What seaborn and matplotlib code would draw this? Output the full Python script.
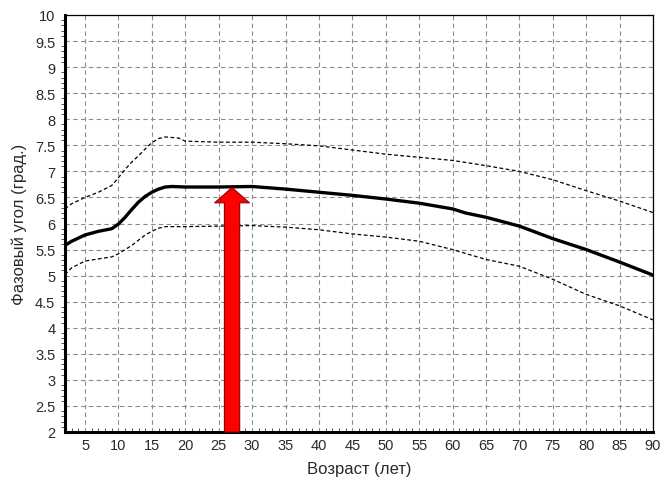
import matplotlib
matplotlib.use("Agg")
import matplotlib.pyplot as plt
import seaborn as sns
import pandas as pd
from matplotlib.ticker import MultipleLocator

# ---- data ----
mid_x = [2, 3, 5, 7, 9, 10, 11, 12, 13, 14, 15, 16, 17, 18, 20, 25, 30, 32, 35, 40,
         45, 50, 55, 60, 62, 65, 70, 75, 80, 85, 90]
mid_y = [5.58, 5.66, 5.78, 5.85, 5.9, 5.99, 6.12, 6.27, 6.41, 6.52, 6.6, 6.66, 6.7, 6.71,
         6.7, 6.7, 6.71, 6.69, 6.66, 6.6, 6.54, 6.47, 6.39, 6.28, 6.2, 6.12, 5.95,
         5.71, 5.5, 5.26, 5.01]

upper_x = [2, 3, 5, 7, 9, 10, 11, 12, 13, 14, 15, 16, 17, 19, 20, 25, 30, 35, 40,
           45, 50, 55, 60, 65, 70, 75, 80, 85, 90]
upper_y = [6.28, 6.38, 6.5, 6.6, 6.73, 6.88, 7.04, 7.18, 7.3, 7.43, 7.55, 7.63, 7.66,
           7.64, 7.58, 7.56, 7.56, 7.53, 7.49, 7.41, 7.33, 7.27, 7.21, 7.11, 7.0,
           6.84, 6.63, 6.43, 6.21]

lower_x = [2, 3, 5, 7, 9, 10, 11, 12, 13, 14, 15, 16, 17, 20, 25, 30, 35, 40, 45,
           50, 55, 60, 65, 70, 75, 80, 85, 90]
lower_y = [5.02, 5.15, 5.28, 5.32, 5.36, 5.42, 5.5, 5.58, 5.68, 5.78, 5.85, 5.91, 5.94,
           5.94, 5.95, 5.96, 5.93, 5.88, 5.8, 5.74, 5.66, 5.5, 5.31, 5.18, 4.93,
           4.64, 4.42, 4.15]

arrow_x = 27.0
arrow_top = 6.69

x_ticks = list(range(5, 95, 5))
y_ticks = [2, 2.5, 3, 3.5, 4, 4.5, 5, 5.5, 6, 6.5, 7, 7.5, 8, 8.5, 9, 9.5, 10]
y_tick_labels = ["2", "2.5", "3", "3.5", "4", "4.5", "5", "5.5", "6", "6.5", "7",
                 "7.5", "8", "8.5", "9", "9.5", "10"]
x_label = "Возраст (лет)"
y_label = "Фазовый угол (град.)"

# ---- style ----
sns.set_theme(style="white")
plt.rcParams["font.family"] = ["Liberation Sans", "DejaVu Sans"]

fig = plt.figure(figsize=(6.66, 4.85), dpi=100)
ax = fig.add_axes([65 / 666, 1 - 433 / 485, (653 - 65) / 666, (433 - 16) / 485])

df_mid = pd.DataFrame({"x": mid_x, "y": mid_y})
df_up = pd.DataFrame({"x": upper_x, "y": upper_y})
df_lo = pd.DataFrame({"x": lower_x, "y": lower_y})

sns.lineplot(data=df_up, x="x", y="y", ax=ax, color="black", lw=0.9, zorder=3)
ax.lines[-1].set_dashes([3, 2])
sns.lineplot(data=df_lo, x="x", y="y", ax=ax, color="black", lw=0.9, zorder=3)
ax.lines[-1].set_dashes([3, 2])
sns.lineplot(data=df_mid, x="x", y="y", ax=ax, color="black", lw=2.4, zorder=4)

ax.set_xlim(2, 90)
ax.set_ylim(2, 10)

ax.set_xticks(x_ticks)
ax.set_yticks(y_ticks)
ax.set_yticklabels(y_tick_labels)
ax.xaxis.set_minor_locator(MultipleLocator(1))
ax.yaxis.set_minor_locator(MultipleLocator(0.1))

ax.grid(True, which="major", color="#8c8c8c", linestyle=(0, (4, 3)), lw=0.8)
ax.tick_params(axis="x", which="major", direction="inout", length=7, width=0.8,
               colors="#555555", labelcolor="#2a2a2a", labelsize=10.5, pad=1)
ax.tick_params(axis="x", which="minor", direction="in", length=3, width=0.7,
               colors="#555555", bottom=True)
ax.tick_params(axis="y", which="major", direction="out", length=5, width=0.8,
               colors="#555555", labelcolor="#2a2a2a", labelsize=10.5, pad=2)
ax.tick_params(axis="y", which="minor", direction="out", length=3, width=0.7,
               colors="#555555", left=True)

for side in ["left", "bottom"]:
    ax.spines[side].set_linewidth(2.2)
    ax.spines[side].set_color("black")
for side in ["top", "right"]:
    ax.spines[side].set_linewidth(0.9)
    ax.spines[side].set_color("black")
    ax.spines[side].set_visible(True)

ax.set_xlabel(x_label, fontsize=12, color="#2a2a2a", labelpad=6)
ax.set_ylabel(y_label, fontsize=12, color="#2a2a2a", labelpad=6)

# red arrow
ax.annotate("", xy=(arrow_x, arrow_top), xytext=(arrow_x, 2.0),
            arrowprops=dict(arrowstyle="simple,head_width=25,head_length=11,tail_width=11",
                            mutation_scale=1, fc="#ff0000", ec="#8b0000", lw=0.8,
                            shrinkA=0, shrinkB=0),
            zorder=5, annotation_clip=False)

fig.savefig("out.png", dpi=100)
